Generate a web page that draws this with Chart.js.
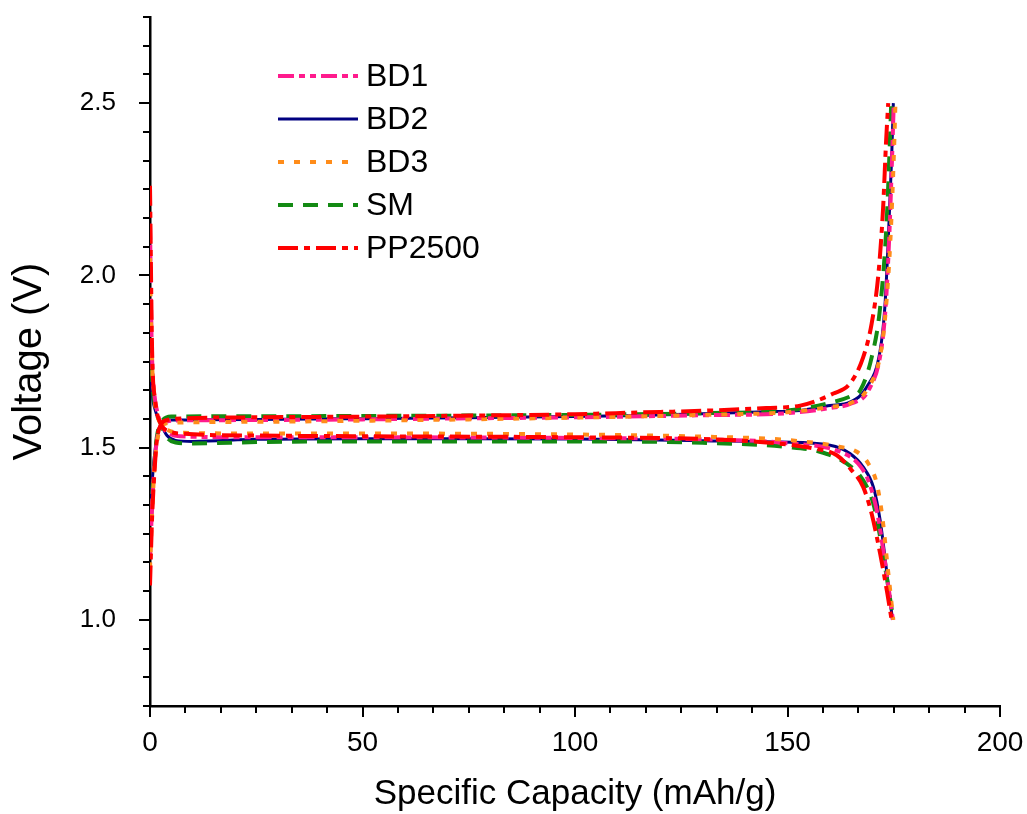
<!DOCTYPE html>
<html>
<head>
<meta charset="utf-8">
<script src="https://cdn.jsdelivr.net/npm/chart.js@4.4.0/dist/chart.umd.min.js"></script>
<style>
  html, body { margin: 0; padding: 0; background: #fff; }
  #wrap { width: 1027px; height: 814px; }
</style>
</head>
<body>
<div id="wrap"><canvas id="chart" width="1027" height="814"></canvas></div>
<script>
// series names (legend order)
const seriesNames = ['BD1', 'BD2', 'BD3', 'SM', 'PP2500'];

// tick labels
const xTickLabels = [0, 50, 100, 150, 200];
const yTickLabels = [1.0, 1.5, 2.0, 2.5];

// BD1 - charge branch (lower left -> upper right)
const bd1ChargeCap = [0, 0.5, 1, 1.6, 2.6, 4, 8, 25, 50, 75, 100, 130, 150, 160, 165, 169, 172, 173.1, 173.9, 174.6, 175];
const bd1ChargeV   = [1.18, 1.33, 1.44, 1.52, 1.565, 1.576, 1.579, 1.580, 1.582, 1.585, 1.588, 1.594, 1.600, 1.615, 1.628, 1.665, 1.78, 1.91, 2.10, 2.34, 2.50];
// BD1 - discharge branch
const bd1DischCap = [0, 0.4, 1, 1.8, 2.6, 4, 7, 25, 50, 100, 130, 150, 162.4, 166.6, 169, 171, 172.8, 174.8];
const bd1DischV   = [2.15, 1.80, 1.66, 1.60, 1.567, 1.545, 1.533, 1.530, 1.530, 1.528, 1.524, 1.513, 1.488, 1.454, 1.405, 1.318, 1.18, 1.0];

// BD2
const bd2ChargeCap = [0, 0.5, 1, 1.6, 2.6, 5, 25, 50, 75, 100, 115, 130, 145, 153, 160, 164.7, 168.6, 171.8, 172.9, 173.7, 174.5, 174.9];
const bd2ChargeV   = [1.30, 1.40, 1.47, 1.53, 1.567, 1.580, 1.582, 1.584, 1.587, 1.590, 1.593, 1.598, 1.604, 1.608, 1.622, 1.632, 1.675, 1.782, 1.907, 2.10, 2.34, 2.50];
const bd2DischCap = [0, 0.5, 1.2, 2.6, 4, 6, 10, 25, 50, 75, 100, 115, 130, 148.2, 160, 164.7, 167.8, 170.2, 171.8, 173.3, 174.7];
const bd2DischV   = [1.78, 1.66, 1.61, 1.567, 1.535, 1.521, 1.518, 1.524, 1.526, 1.526, 1.525, 1.523, 1.520, 1.516, 1.507, 1.483, 1.444, 1.386, 1.289, 1.144, 1.0];

// BD3
const bd3ChargeCap = [0, 0.5, 1, 1.6, 2.6, 5, 25, 50, 75, 100, 130, 150, 160, 165, 168.8, 172, 173.2, 174.2, 175, 175.4];
const bd3ChargeV   = [1.15, 1.31, 1.43, 1.51, 1.562, 1.572, 1.575, 1.578, 1.582, 1.587, 1.595, 1.603, 1.618, 1.630, 1.670, 1.78, 1.91, 2.10, 2.34, 2.50];
const bd3DischCap = [0, 0.4, 1, 1.8, 2.6, 4, 8, 25, 50, 100, 130, 150, 162.4, 166.3, 169, 171, 172.3, 173.6, 174.9];
const bd3DischV   = [2.05, 1.78, 1.65, 1.59, 1.567, 1.552, 1.543, 1.541, 1.541, 1.538, 1.532, 1.522, 1.502, 1.488, 1.454, 1.396, 1.30, 1.15, 1.0];

// SM
const smChargeCap = [0, 0.5, 1, 1.6, 2.6, 5, 25, 50, 75, 100, 130, 150, 160, 165, 167.1, 169.8, 171.8, 173.3, 174.1, 174.4];
const smChargeV   = [1.22, 1.36, 1.45, 1.53, 1.572, 1.590, 1.591, 1.592, 1.593, 1.595, 1.600, 1.608, 1.630, 1.650, 1.666, 1.762, 1.907, 2.149, 2.39, 2.50];
const smDischCap = [0, 0.5, 1.2, 2.6, 4, 6, 10, 25, 50, 100, 130, 149.8, 157.6, 163.9, 167.8, 170.2, 171.8, 173.7, 174.9];
const smDischV   = [1.88, 1.70, 1.62, 1.567, 1.530, 1.515, 1.512, 1.516, 1.518, 1.518, 1.514, 1.502, 1.488, 1.454, 1.405, 1.337, 1.241, 1.096, 1.0];

// PP2500
const ppChargeCap = [0, 0.5, 1, 1.6, 2.6, 4, 8, 25, 50, 75, 100, 115, 130, 145, 153, 160.8, 164.7, 167.8, 169.8, 171.4, 172.5, 173.2, 173.7];
const ppChargeV   = [1.10, 1.30, 1.42, 1.52, 1.567, 1.580, 1.585, 1.588, 1.590, 1.593, 1.597, 1.602, 1.607, 1.615, 1.622, 1.657, 1.686, 1.762, 1.86, 2.005, 2.197, 2.39, 2.50];
const ppDischCap = [0, 0.5, 1.2, 2.6, 4, 8, 25, 50, 100, 130, 145, 156, 161.6, 165.1, 167.8, 169.8, 171.8, 173.5, 174.5];
const ppDischV   = [2.26, 1.78, 1.64, 1.567, 1.550, 1.540, 1.535, 1.533, 1.530, 1.525, 1.515, 1.498, 1.478, 1.434, 1.386, 1.308, 1.192, 1.076, 1.0];

// join charge + discharge with a gap so each series is a single line dataset
function branches(cap1, v1, cap2, v2) {
    const a = cap1.map((x, i) => ({ x: x, y: v1[i] }));
    const b = cap2.map((x, i) => ({ x: x, y: v2[i] }));
    return a.concat([{ x: null, y: null }], b);
}

const styles = [
    { color: '#ff1b8d', dash: [16, 5, 6, 5, 6, 5], width: 4, order: 3 },
    { color: '#000080', dash: [], width: 3, order: 5 },
    { color: '#ff8c1a', dash: [6, 10], width: 4, order: 2 },
    { color: '#138a13', dash: [15, 10], width: 4, order: 4 },
    { color: '#ff0000', dash: [20, 6, 6, 6], width: 4, order: 1 }
];

const seriesData = [
    branches(bd1ChargeCap, bd1ChargeV, bd1DischCap, bd1DischV),
    branches(bd2ChargeCap, bd2ChargeV, bd2DischCap, bd2DischV),
    branches(bd3ChargeCap, bd3ChargeV, bd3DischCap, bd3DischV),
    branches(smChargeCap, smChargeV, smDischCap, smDischV),
    branches(ppChargeCap, ppChargeV, ppDischCap, ppDischV)
];

const FONT = 'Arial, "Liberation Sans", sans-serif';

// draws outward tick marks (major + 5 minor) on both axes
const tickMarks = {
    id: 'tickMarks',
    afterDraw(chart) {
        const ctx = chart.ctx;
        const xs = chart.scales.x, ys = chart.scales.y;
        ctx.save();
        ctx.strokeStyle = '#000';
        ctx.lineWidth = 2;
        for (let i = 0; i <= 24; i++) {
            const v = i * 200 / 24;
            const px = Math.round(xs.getPixelForValue(v));
            const len = i % 6 === 0 ? 11 : 7;
            ctx.beginPath();
            ctx.moveTo(px, ys.bottom);
            ctx.lineTo(px, ys.bottom + len);
            ctx.stroke();
        }
        for (let i = 0; i <= 24; i++) {
            const v = 0.75 + i * 0.5 / 6;
            const py = Math.round(ys.getPixelForValue(v));
            const len = (i - 3) % 6 === 0 ? 11 : 7;
            ctx.beginPath();
            ctx.moveTo(xs.left, py);
            ctx.lineTo(xs.left - len, py);
            ctx.stroke();
        }
        ctx.restore();
    }
};

// legend in the upper left, line samples use each dataset's dash pattern
const sampleLegend = {
    id: 'sampleLegend',
    afterDraw(chart) {
        const ctx = chart.ctx;
        ctx.save();
        chart.data.datasets.forEach((ds, i) => {
            const y = 76 + i * 43;
            ctx.strokeStyle = ds.borderColor;
            ctx.lineWidth = ds.borderWidth;
            ctx.setLineDash(ds.borderDash);
            ctx.beginPath();
            ctx.moveTo(278, y);
            ctx.lineTo(358, y);
            ctx.stroke();
            ctx.setLineDash([]);
            ctx.fillStyle = '#000';
            ctx.font = '32px ' + FONT;
            ctx.textBaseline = 'middle';
            ctx.fillText(ds.label, 366, y + 1);
        });
        ctx.restore();
    }
};

new Chart(document.getElementById('chart'), {
    type: 'scatter',
    data: {
        datasets: seriesNames.map((name, i) => ({
            label: name,
            data: seriesData[i],
            showLine: true,
            spanGaps: false,
            borderColor: styles[i].color,
            backgroundColor: styles[i].color,
            borderDash: styles[i].dash,
            borderWidth: styles[i].width,
            order: styles[i].order,
            pointRadius: 0,
            cubicInterpolationMode: 'monotone'
        }))
    },
    options: {
        responsive: false,
        animation: false,
        layout: { padding: { top: 17, right: 27, left: 0, bottom: 0 } },
        plugins: { legend: { display: false }, tooltip: { enabled: false } },
        scales: {
            x: {
                type: 'linear',
                min: 0, max: 200,
                grid: { display: false, drawTicks: false },
                border: { display: true, color: '#000', width: 2.5 },
                afterBuildTicks: s => { s.ticks = xTickLabels.map(v => ({ value: v })); },
                ticks: { padding: 20, color: '#000', font: { family: FONT, size: 28 }, maxRotation: 0 },
                title: { display: true, text: 'Specific Capacity (mAh/g)', color: '#000',
                         font: { family: FONT, size: 35, lineHeight: 1 }, padding: { top: 0, bottom: 2 } },
                afterFit: s => { s.height = 108; s.paddingLeft = 0; s.paddingRight = 0; }
            },
            y: {
                type: 'linear',
                min: 0.75, max: 2.75,
                grid: { display: false, drawTicks: false },
                border: { display: true, color: '#000', width: 2.5 },
                afterBuildTicks: s => { s.ticks = yTickLabels.map(v => ({ value: v })); },
                ticks: { padding: 34, color: '#000', font: { family: FONT, size: 26 },
                         callback: v => v.toFixed(1) },
                title: { display: true, text: 'Voltage (V)', color: '#000',
                         font: { family: FONT, size: 40, lineHeight: 1 }, padding: { top: 10, bottom: 0 } },
                afterFit: s => { s.width = 150; s.paddingTop = 0; s.paddingBottom = 0; }
            }
        }
    },
    plugins: [tickMarks, sampleLegend]
});
</script>
</body>
</html>
